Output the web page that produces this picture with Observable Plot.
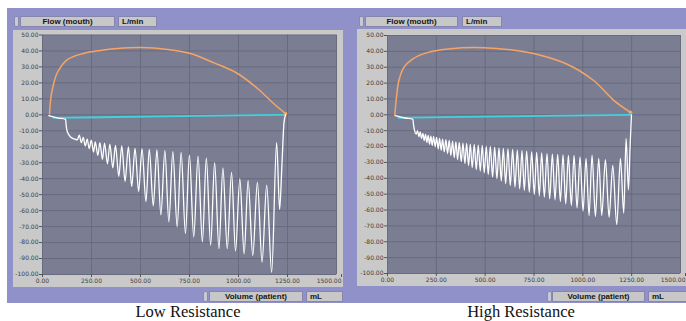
<!DOCTYPE html>
<html><head><meta charset="utf-8">
<script src="https://cdn.jsdelivr.net/npm/d3@7"></script>
<script src="https://cdn.jsdelivr.net/npm/@observablehq/plot@0.6"></script>
<style>
body{margin:0;width:686px;height:321px;overflow:hidden;background:#fff;position:relative;font-family:"Liberation Sans",sans-serif}
.abs{position:absolute}
.purple{background:#9191c9}
.box{position:absolute;background:#c7c7c7;border:1px solid #8585ad;box-sizing:border-box;font:bold 8px "Liberation Sans",sans-serif;color:#151515;line-height:9px;white-space:nowrap;overflow:hidden}
.knob{position:absolute;background:#c9c9d6;border:1px solid #8a8ab0;border-radius:2px;box-sizing:border-box;width:5px;height:11px}
.cap{position:absolute;font:16.5px "Liberation Serif",serif;color:#111;text-align:center;width:240px}
.panel svg{display:block}
</style></head>
<body>
<div class="abs purple" style="left:7px;top:8px;width:679px;height:295px"></div>
<!-- left panel headers -->
<div class="knob" style="left:14px;top:16px"></div>
<div class="box" style="left:20px;top:16px;width:95px;height:11px;text-align:center" id="l_ylab"></div>
<div class="box" style="left:118px;top:16px;width:39px;height:11px;padding-left:3px" id="l_yunit"></div>
<div class="abs panel" id="leftPanel" style="left:13px;top:30px"></div>
<div class="knob" style="left:203px;top:291px"></div>
<div class="box" style="left:209px;top:291px;width:94px;height:11px;text-align:center" id="l_xlab"></div>
<div class="box" style="left:306px;top:291px;width:37px;height:11px;padding-left:3px" id="l_xunit"></div>
<div class="cap" style="left:68px;top:302px" id="l_cap"></div>
<!-- right panel headers -->
<div class="knob" style="left:359px;top:16px"></div>
<div class="box" style="left:365px;top:16px;width:93px;height:11px;text-align:center" id="r_ylab"></div>
<div class="box" style="left:462px;top:16px;width:40px;height:11px;padding-left:3px" id="r_yunit"></div>
<div class="abs panel" id="rightPanel" style="left:357px;top:29px"></div>
<div class="knob" style="left:547px;top:291px"></div>
<div class="box" style="left:552px;top:291px;width:93px;height:11px;text-align:center" id="r_xlab"></div>
<div class="box" style="left:648px;top:291px;width:40px;height:11px;padding-left:3px" id="r_xunit"></div>
<div class="cap" style="left:401px;top:302px" id="r_cap"></div>
<script>
// ---- labels ----
const yLabel = "Flow (mouth)";
const yUnit = "L/min";
const xLabel = "Volume (patient)";
const xUnit = "mL";
const captions = ["Low Resistance", "High Resistance"];

// ---- ticks ----
const xTicks = [0, 250, 500, 750, 1000, 1250, 1500];
const yTicks = [50, 40, 30, 20, 10, 0, -10, -20, -30, -40, -50, -60, -70, -80, -90, -100];

// ---- Low resistance: orange (positive flow) loop ----
const lowOrangeVol  = [36, 40, 51, 76, 127, 209, 296, 383, 500, 638, 755, 872, 995, 1097, 1179, 1240];
const lowOrangeFlow = [0.5, 8, 16.5, 26.5, 34.6, 38.4, 40.3, 41.5, 42.1, 40.9, 38.4, 32.7, 25.9, 16.5, 7.1, 0.8];
// cyan baseline
const lowCyanVol  = [56, 300, 600, 900, 1240];
const lowCyanFlow = [-1.9, -1.5, -1.0, -0.5, 0];
// white (negative flow) oscillating trace
const lowWhiteVol = [32, 80, 118, 121, 128, 145, 165,
  177.7, 187.8, 198, 208, 218, 228, 238.6, 248.7, 260.6, 269, 282.6, 292.7, 306, 316.4,
  331.6, 343.5, 358.7, 372.3, 389.2, 404.4, 421.3, 438.2, 455.2, 472, 490.7, 507.6,
  527.9, 544.8, 565.1, 583.8, 604, 624.4, 644.7, 665, 687, 707.3, 729.3, 749.6,
  771.6, 793.6, 815.6, 835.9, 857.9, 878.2, 900.2, 920.5, 942.5, 964.5, 984.8, 1006.8,
  1028.8, 1049, 1072.8, 1096.4, 1120.1, 1143.8, 1169.2, 1194.6, 1209.8, 1222, 1232, 1240];
const lowWhiteFlow = [-0.5, -2, -2.8, -7, -11, -14, -15.2,
  -15.7, -12.7, -17.4, -14.2, -19.5, -15.3, -21.2, -15.9, -23.3, -17, -25.4, -17.4, -27.9, -17.8,
  -30.7, -18.4, -33.2, -19.1, -38.5, -19.5, -41.6, -20.1, -44.8, -21, -48, -21.2,
  -54.3, -21.6, -57, -22, -62.7, -22.4, -67, -23.1, -70.1, -23.5, -74.3, -25.2,
  -76.5, -25.8, -79.6, -26.9, -81.7, -30, -83.8, -33.2, -83.8, -36, -85.3, -40.2,
  -87, -41.2, -88.1, -42.3, -92.3, -44, -98.6, -17.4, -59.2, -30, -5, 0];

// ---- High resistance ----
const highOrangeVol  = [37, 41, 46, 58, 83, 126, 203, 323, 493, 647, 783, 920, 1057, 1160, 1244];
const highOrangeFlow = [-0.4, 5, 11, 21.5, 29.8, 35, 39.2, 41.7, 42.3, 40.7, 37.6, 31.9, 21.5, 9, 1.6];
const highCyanVol  = [56, 300, 600, 900, 1249];
const highCyanFlow = [-1.9, -1.5, -1.0, -0.5, 0];
const highWhiteVol = [41, 90, 130, 133, 138,
  146.9, 153.8, 160.6, 167.4, 174.3, 181.1, 187.9, 194.8, 201.6, 208.4, 215.3, 222.1,
  228.9, 235.8, 244.3, 251.1, 259.7, 266.5, 275, 281.9, 290.4, 299, 307.5, 316,
  324.6, 333.1, 341.7, 350.2, 358.8, 367.3, 377.6, 386.1, 396.4, 404.9, 415.1, 423.7,
  433.9, 444.2, 454.4, 464.7, 474.9, 485.2, 495.4, 505.7, 515.9, 526.2, 538.1, 548.4,
  560.4, 570.6, 582.6, 592.8, 604.8, 616.7, 628.7, 640.6, 652.6, 664.6, 676.5, 688.5,
  700.4, 712.4, 726, 738, 751.7, 763.7, 777.3, 789.3, 802.9, 816.6, 830.3, 844,
  857.6, 871.3, 884.9, 898.6, 912.3, 926, 941.3, 955, 970.4, 985.7, 1001.1, 1016.5,
  1031.9, 1047.2, 1064.3, 1081.4, 1096.8, 1115.6, 1134.4, 1153.2, 1173.7, 1192.5,
  1209.5, 1221.5, 1233.5, 1242, 1249];
const highWhiteFlow = [-0.5, -2, -2.8, -6, -9.5,
  -12.1, -10, -13.8, -10.8, -14.9, -11.7, -16.3, -12.3, -17.4, -13, -18.5, -13.4,
  -19.3, -13.8, -20.1, -14.2, -21.4, -14.9, -22.3, -15.3, -23.3, -15.7, -24.4, -16.1,
  -25.6, -16.6, -26.9, -17, -28.2, -17.4, -29.5, -17.8, -30.7, -18, -32, -18.5,
  -33.3, -18.7, -34.5, -19.1, -35.4, -19.3, -36.6, -19.7, -37.7, -19.9, -39.2, -20.4,
  -40.2, -20.8, -41.7, -21.2, -43.4, -21.4, -44.5, -21.8, -45.5, -22.3, -46.6, -22.5,
  -47.6, -22.9, -48.7, -23.3, -50.2, -23.7, -51, -24, -51.9, -24.4, -52.9, -24.8,
  -53.6, -25, -54.6, -25.2, -56.1, -25.6, -57.1, -25.6, -58.6, -26.5, -60.7, -27.5,
  -63.5, -25.4, -64.1, -27.5, -63.5, -28.2, -64.5, -31.8, -69.2, -27.5,
  -62, -14.9, -47.2, -20, 0];

const zip = (xs, ys) => xs.map((v, i) => ({vol: v, flow: ys[i]}));

function panel({width, height, ml, mr, mt, mb, orange, cyan, white}) {
  const fmt = d => d.toFixed(2);
  const inner = xTicks.slice(0, -1), last = xTicks.slice(-1);
  return Plot.plot({
    width, height, marginLeft: ml, marginRight: mr, marginTop: mt, marginBottom: mb,
    style: {background: "#c9c9c9", fontFamily: "DejaVu Sans", fontSize: "6px", color: "#3c3c3c", overflow: "hidden"},
    x: {domain: [0, 1500], label: null},
    y: {domain: [-100, 50], label: null},
    marks: [
      Plot.frame({fill: "#7b7e93"}),
      Plot.gridX(xTicks, {stroke: "#686b7e", strokeOpacity: 1}),
      Plot.gridY(yTicks, {stroke: "#686b7e", strokeOpacity: 1}),
      Plot.axisX(inner, {tickFormat: fmt, tickSize: 3, tickPadding: 1, label: null, stroke: "#555"}),
      Plot.axisX(last, {tickFormat: fmt, tickSize: 3, tickPadding: 1, label: null, stroke: "#555", textAnchor: "end", dx: 5}),
      Plot.axisY(yTicks, {tickFormat: fmt, tickSize: 3, tickPadding: 1, label: null, stroke: "#555"}),
      Plot.line(cyan, {x: "vol", y: "flow", stroke: "#3fd3e0", strokeWidth: 1.8}),
      Plot.line(orange, {x: "vol", y: "flow", stroke: "#f5a565", strokeWidth: 1.5, curve: "catmull-rom"}),
      Plot.dot(orange.slice(-1), {x: "vol", y: "flow", r: 1.8, fill: "#f5a565"}),
      Plot.line(white, {x: "vol", y: "flow", stroke: "#ffffff", strokeWidth: 1.3, curve: "monotone-x"})
    ]
  });
}

document.getElementById("leftPanel").append(panel({
  width: 330, height: 257, ml: 29, mr: 7, mt: 4.5, mb: 13,
  orange: zip(lowOrangeVol, lowOrangeFlow), cyan: zip(lowCyanVol, lowCyanFlow), white: zip(lowWhiteVol, lowWhiteFlow)
}));
document.getElementById("rightPanel").append(panel({
  width: 329, height: 257, ml: 30, mr: 6, mt: 6, mb: 13,
  orange: zip(highOrangeVol, highOrangeFlow), cyan: zip(highCyanVol, highCyanFlow), white: zip(highWhiteVol, highWhiteFlow)
}));

for (const p of ["l", "r"]) {
  document.getElementById(p + "_ylab").textContent = yLabel;
  document.getElementById(p + "_yunit").textContent = yUnit;
  document.getElementById(p + "_xlab").textContent = xLabel;
  document.getElementById(p + "_xunit").textContent = xUnit;
}
document.getElementById("l_cap").textContent = captions[0];
document.getElementById("r_cap").textContent = captions[1];
</script>
</body></html>
